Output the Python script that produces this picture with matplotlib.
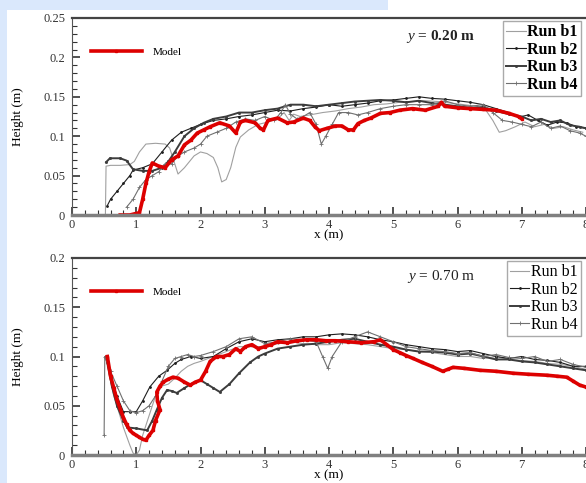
import numpy as np
import matplotlib
matplotlib.use("Agg")
import matplotlib.pyplot as plt
from matplotlib.patches import Rectangle
from matplotlib.ticker import MultipleLocator

plt.rcParams['font.family'] = ['Liberation Serif', 'DejaVu Serif']
plt.rcParams['mathtext.fontset'] = 'custom'
plt.rcParams['mathtext.it'] = 'Liberation Serif:italic'
plt.rcParams['mathtext.rm'] = 'Liberation Serif'

# ---- y = 0.20 m (upper panel) ----
top_model_x = [0.75, 0.9, 1.05, 1.1, 1.15, 1.2, 1.25, 1.35, 1.45, 1.55, 1.65, 1.75, 1.85, 1.95, 2.05, 2.15,
               2.3, 2.45, 2.55, 2.62, 2.7, 2.85, 2.93, 2.98, 3.05, 3.2, 3.35, 3.45, 3.6, 3.7, 3.78, 3.85,
               3.97, 4.1, 4.2, 4.3, 4.38, 4.45, 4.55, 4.65, 4.8, 4.95, 5.1, 5.3, 5.5, 5.7, 5.75, 5.8,
               6.0, 6.2, 6.4, 6.6, 6.8, 6.95, 7.0]
top_model_y = [0.0, 0.0, 0.003, 0.02, 0.04, 0.055, 0.066, 0.062, 0.06, 0.07, 0.075, 0.089, 0.095, 0.104, 0.108, 0.112,
               0.117, 0.113, 0.104, 0.118, 0.12, 0.117, 0.11, 0.108, 0.12, 0.123, 0.117, 0.118, 0.123, 0.12, 0.112, 0.107,
               0.11, 0.113, 0.113, 0.108, 0.108, 0.116, 0.12, 0.123, 0.129, 0.13, 0.133, 0.135, 0.133, 0.138, 0.143, 0.138,
               0.136, 0.135, 0.134, 0.133, 0.129, 0.125, 0.122]

top_b1_x = [0.52, 0.53, 0.6, 0.75, 0.9, 0.97, 1.05, 1.15, 1.3, 1.45, 1.52, 1.58, 1.65, 1.75, 1.9, 2.0,
            2.1, 2.2, 2.27, 2.33, 2.4, 2.47, 2.55, 2.62, 2.75, 2.9, 3.05, 3.2, 3.3, 3.38, 3.45, 3.55,
            3.7, 3.9, 4.1, 4.3, 4.5, 4.7, 4.9, 5.1, 5.3, 5.5, 5.7, 5.9, 6.1, 6.3, 6.45, 6.55, 6.65,
            6.75, 6.9, 7.05, 7.2, 7.35, 7.5, 7.65, 7.8, 7.95]
top_b1_y = [0.0, 0.062, 0.063, 0.063, 0.064, 0.068, 0.08, 0.09, 0.091, 0.09, 0.085, 0.07, 0.052, 0.06, 0.075, 0.08,
            0.078, 0.073, 0.06, 0.042, 0.045, 0.06, 0.086, 0.099, 0.108, 0.115, 0.118, 0.122, 0.13, 0.12, 0.128, 0.125,
            0.127, 0.13, 0.132, 0.135, 0.137, 0.14, 0.141, 0.143, 0.144, 0.145, 0.144, 0.142, 0.14, 0.138, 0.132, 0.12, 0.105,
            0.107, 0.112, 0.118, 0.112, 0.115, 0.11, 0.112, 0.108, 0.105]

top_b2_x = [0.55, 0.6, 0.7, 0.8, 0.9, 0.95, 1.1, 1.25, 1.4, 1.55, 1.7, 1.85, 2.0, 2.2, 2.4, 2.6,
            2.8, 3.0, 3.2, 3.4, 3.6, 3.8, 4.0, 4.2, 4.4, 4.6, 4.8, 5.0, 5.2, 5.4, 5.6, 5.8,
            6.0, 6.2, 6.4, 6.6, 6.8, 6.95, 7.1, 7.25, 7.4, 7.55, 7.7, 7.85, 8.0]
top_b2_y = [0.012, 0.02, 0.03, 0.04, 0.05, 0.057, 0.06, 0.065, 0.08, 0.095, 0.105, 0.11, 0.115, 0.12, 0.122, 0.125,
            0.127, 0.13, 0.133, 0.132, 0.135, 0.137, 0.14, 0.138, 0.14, 0.142, 0.145, 0.146, 0.148, 0.15, 0.148, 0.147,
            0.145, 0.143, 0.14, 0.135, 0.13, 0.124, 0.127, 0.12, 0.114, 0.118, 0.117, 0.112, 0.11]

top_b3_x = [0.53, 0.59, 0.75, 0.85, 0.95, 1.1, 1.25, 1.4, 1.5, 1.6, 1.75, 1.9, 2.05, 2.2, 2.4, 2.6,
            2.8, 3.0, 3.2, 3.4, 3.6, 3.8, 4.0, 4.2, 4.4, 4.6, 4.8, 5.0, 5.2, 5.4, 5.6, 5.8,
            6.0, 6.2, 6.4, 6.6, 6.8, 7.0, 7.15, 7.3, 7.45, 7.6, 7.75, 7.9, 8.0]
top_b3_y = [0.067, 0.072, 0.072, 0.069, 0.058, 0.056, 0.056, 0.06, 0.068, 0.08, 0.1, 0.11, 0.117, 0.122, 0.125, 0.13,
            0.13, 0.133, 0.135, 0.14, 0.14, 0.138, 0.14, 0.142, 0.144, 0.145, 0.146, 0.145, 0.143, 0.145, 0.142, 0.14,
            0.138, 0.136, 0.137, 0.132, 0.128, 0.125, 0.12, 0.122, 0.118, 0.12, 0.114, 0.112, 0.11]

top_b4_x = [0.85, 0.95, 1.05, 1.15, 1.25, 1.35, 1.45, 1.55, 1.65, 1.75, 1.9, 2.0, 2.1, 2.25, 2.4, 2.55,
            2.7, 2.85, 3.0, 3.15, 3.25, 3.32, 3.4, 3.5, 3.6, 3.7, 3.8, 3.88, 3.95, 4.05, 4.15, 4.3,
            4.45, 4.6, 4.8, 5.0, 5.2, 5.4, 5.6, 5.8, 6.0, 6.2, 6.4, 6.55, 6.7, 6.85, 7.0, 7.15,
            7.3, 7.45, 7.6, 7.75, 7.9, 8.0]
top_b4_y = [0.01, 0.02, 0.035, 0.045, 0.05, 0.055, 0.065, 0.065, 0.075, 0.08, 0.085, 0.09, 0.1, 0.105, 0.11, 0.118,
            0.122, 0.12, 0.125, 0.12, 0.13, 0.14, 0.128, 0.122, 0.125, 0.13, 0.115, 0.09, 0.1, 0.115, 0.13, 0.13,
            0.127, 0.13, 0.135, 0.138, 0.14, 0.14, 0.14, 0.145, 0.14, 0.138, 0.14, 0.13, 0.12, 0.118, 0.115, 0.112,
            0.118, 0.11, 0.113, 0.107, 0.104, 0.1]

# ---- y = 0.70 m (lower panel) ----
bot_model_x = [0.55, 0.6, 0.65, 0.7, 0.75, 0.8, 0.85, 0.9, 0.95, 1.0, 1.05, 1.1, 1.15, 1.2, 1.26, 1.3,
               1.37, 1.33, 1.32, 1.37, 1.42, 1.5, 1.57, 1.65, 1.75, 1.84, 1.92, 2.0, 2.08, 2.15, 2.25, 2.35,
               2.45, 2.55, 2.62, 2.7, 2.8, 2.9, 3.0, 3.1, 3.2, 3.35, 3.5, 3.65, 3.8, 3.95, 4.1, 4.3,
               4.5, 4.7, 4.8, 4.9, 5.0, 5.1, 5.2, 5.31, 5.45, 5.6, 5.77, 5.85, 5.93, 6.1, 6.35, 6.6,
               6.87, 7.1, 7.39, 7.55, 7.7, 7.8, 7.9, 8.0]
bot_model_y = [0.1, 0.08, 0.068, 0.056, 0.047, 0.038, 0.031, 0.025, 0.022, 0.02, 0.018, 0.016, 0.015, 0.02, 0.025, 0.035,
               0.046, 0.055, 0.064, 0.07, 0.074, 0.077, 0.079, 0.078, 0.074, 0.071, 0.074, 0.076, 0.085, 0.095, 0.1, 0.1,
               0.102, 0.108, 0.105, 0.11, 0.112, 0.108, 0.11, 0.112, 0.115, 0.114, 0.116, 0.117, 0.117, 0.116, 0.116, 0.115,
               0.114, 0.115, 0.117, 0.112, 0.107, 0.104, 0.101, 0.098, 0.094, 0.09, 0.085, 0.087, 0.089, 0.088, 0.086, 0.085,
               0.083, 0.082, 0.081, 0.08, 0.079, 0.075, 0.071, 0.069]

bot_b1_x = [0.52, 0.55, 0.6, 0.65, 0.7, 0.8, 0.9, 0.95, 1.0, 1.05, 1.1, 1.2, 1.3, 1.4, 1.5, 1.6,
            1.7, 1.8, 1.9, 2.0, 2.2, 2.4, 2.6, 2.8, 3.0, 3.2, 3.4, 3.6, 3.8, 4.0, 4.2, 4.4,
            4.6, 4.8, 5.0, 5.2, 5.4, 5.6, 5.8, 6.0, 6.2, 6.4, 6.6, 6.8, 7.0, 7.2, 7.4, 7.6, 7.8, 8.0]
bot_b1_y = [0.1, 0.09, 0.075, 0.06, 0.05, 0.028, 0.01, 0.002, 0.0, 0.005, 0.02, 0.04, 0.06, 0.07, 0.072, 0.078,
            0.085, 0.09, 0.093, 0.095, 0.1, 0.105, 0.11, 0.11, 0.11, 0.113, 0.115, 0.113, 0.112, 0.112, 0.114, 0.113,
            0.112, 0.11, 0.108, 0.107, 0.105, 0.104, 0.102, 0.1, 0.1, 0.098, 0.1, 0.097, 0.096, 0.095, 0.093, 0.092, 0.09, 0.087]

bot_b2_x = [0.52, 0.6, 0.7, 0.8, 0.9, 1.0, 1.1, 1.21, 1.35, 1.48, 1.6, 1.7, 1.85, 2.0, 2.2, 2.4,
            2.6, 2.8, 3.0, 3.2, 3.4, 3.6, 3.8, 4.0, 4.2, 4.4, 4.6, 4.8, 5.0, 5.2, 5.4, 5.6,
            5.8, 6.0, 6.2, 6.4, 6.6, 6.8, 7.0, 7.2, 7.4, 7.6, 7.8, 8.0]
bot_b2_y = [0.1, 0.08, 0.06, 0.044, 0.044, 0.044, 0.055, 0.069, 0.08, 0.086, 0.093, 0.097, 0.1, 0.098, 0.1, 0.108,
            0.115, 0.118, 0.115, 0.117, 0.118, 0.12, 0.12, 0.122, 0.123, 0.122, 0.12, 0.117, 0.115, 0.112, 0.11, 0.108,
            0.107, 0.105, 0.106, 0.103, 0.1, 0.098, 0.1, 0.097, 0.096, 0.094, 0.09, 0.09]

bot_b3_x = [0.55, 0.62, 0.7, 0.8, 0.86, 1.0, 1.17, 1.25, 1.32, 1.4, 1.48, 1.55, 1.63, 1.75, 1.85, 2.0,
            2.1, 2.2, 2.3, 2.45, 2.6, 2.77, 2.9, 3.0, 3.2, 3.4, 3.6, 3.8, 4.0, 4.2, 4.4, 4.6,
            4.8, 5.0, 5.2, 5.4, 5.6, 5.8, 6.0, 6.2, 6.4, 6.6, 6.8, 7.0, 7.2, 7.4, 7.6, 7.8, 8.0]
bot_b3_y = [0.095, 0.07, 0.05, 0.035, 0.028, 0.027, 0.025, 0.035, 0.046, 0.058, 0.066, 0.065, 0.063, 0.068, 0.072, 0.076,
            0.072, 0.068, 0.064, 0.072, 0.083, 0.094, 0.1, 0.103, 0.108, 0.11, 0.112, 0.113, 0.115, 0.117, 0.118, 0.115,
            0.112, 0.11, 0.107, 0.105, 0.105, 0.104, 0.102, 0.103, 0.1, 0.097, 0.097, 0.095, 0.094, 0.092, 0.09, 0.088, 0.086]

bot_b4_x = [0.5, 0.51, 0.6, 0.7, 0.8, 0.9, 1.0, 1.1, 1.2, 1.3, 1.4, 1.5, 1.6, 1.7, 1.8, 1.9,
            2.0, 2.2, 2.4, 2.6, 2.8, 3.0, 3.2, 3.4, 3.6, 3.8, 3.9, 3.98, 4.05, 4.2, 4.4, 4.6,
            4.8, 5.0, 5.2, 5.4, 5.6, 5.8, 6.0, 6.2, 6.4, 6.6, 6.8, 7.0, 7.2, 7.4, 7.6, 7.8, 8.0]
bot_b4_y = [0.02, 0.1, 0.085, 0.07, 0.055, 0.045, 0.043, 0.045, 0.05, 0.06, 0.075, 0.09, 0.098, 0.1, 0.102, 0.1,
            0.101, 0.105, 0.11, 0.118, 0.12, 0.113, 0.115, 0.118, 0.117, 0.115, 0.1, 0.088, 0.1, 0.115, 0.12, 0.125,
            0.12, 0.115, 0.11, 0.108, 0.106, 0.105, 0.103, 0.104, 0.1, 0.102, 0.099, 0.098, 0.1, 0.095, 0.097, 0.092, 0.089]

run_labels = ['Run b1', 'Run b2', 'Run b3', 'Run b4']
run_styles = [dict(color='#a0a0a0', lw=0.8),
              dict(color='#1e1e1e', lw=0.8, marker='.', ms=2),
              dict(color='#3c3c3c', lw=1.4, marker='s', ms=1.0),
              dict(color='#707070', lw=0.8, marker='+', ms=2.5, mew=0.6)]
model_style = dict(color='#dd0000', lw=2.6, marker='s', ms=2)


def draw_panel(ax, runs, model, ymax, title, bold):
    for (xs, ys), lab, st in zip(runs, run_labels, run_styles):
        ax.plot(xs, ys, label=lab, **st)
    mline, = ax.plot(model[0], model[1], **model_style)

    ax.set_xlim(0, 8)
    ax.set_ylim(0, ymax)
    ax.xaxis.set_major_locator(MultipleLocator(1))
    ax.xaxis.set_minor_locator(MultipleLocator(0.2))
    ax.yaxis.set_major_locator(MultipleLocator(0.05))
    ax.yaxis.set_minor_locator(MultipleLocator(0.01))
    ax.yaxis.set_major_formatter(plt.FuncFormatter(lambda v, p: '0' if v == 0 else f'{v:g}'))
    ax.tick_params(which='both', direction='in', top=False, right=False, labelsize=9,
                   labelcolor='#333333', color='#333333')
    ax.tick_params(which='major', length=6, width=1.2)
    ax.tick_params(which='minor', length=3.5, width=0.8)
    ax.tick_params(axis='x', pad=3)
    ax.tick_params(axis='y', pad=5)
    ax.spines['right'].set_visible(False)
    ax.spines['top'].set_color('#444444')
    ax.spines['top'].set_linewidth(1.6)
    ax.spines['left'].set_color('#555555')
    ax.spines['left'].set_linewidth(0.8)
    ax.spines['bottom'].set_color('#808080')
    ax.spines['bottom'].set_linewidth(2.5)

    ax.set_xlabel('x (m)', fontsize=9.5, labelpad=-1)
    ax.set_ylabel('Height (m)', fontsize=9.5, labelpad=14)

    leg = ax.legend(loc='upper right', bbox_to_anchor=(0.99, 0.985),
                    prop=dict(size=11.5, weight='bold' if bold else 'normal'),
                    handlelength=1.2, handletextpad=0.1, labelspacing=0.1,
                    borderpad=0.2, borderaxespad=0, fancybox=False, framealpha=1)
    leg.get_frame().set_edgecolor('#aaaaaa')
    leg.get_frame().set_linewidth(1.0)
    ax.add_artist(leg)

    ax.legend([mline], ['Model'], loc='center left', bbox_to_anchor=(0.028, 0.827),
              frameon=False, fontsize=8, handlelength=4.6, handletextpad=1.0, borderaxespad=0)

    ax.text(0.718, 0.905, title, transform=ax.transAxes, ha='center', va='center',
            fontsize=11, fontweight='bold' if bold else 'normal', color='#222222')


fig = plt.figure(figsize=(5.86, 4.83), dpi=100, facecolor='white')
fig.patches.append(Rectangle((0, 0), 7 / 586, 1, transform=fig.transFigure,
                             facecolor='#dae8fc', edgecolor='none', zorder=-1))
fig.patches.append(Rectangle((0, 473 / 483), 388 / 586, 10 / 483, transform=fig.transFigure,
                             facecolor='#dae8fc', edgecolor='none', zorder=-1))

ax1 = fig.add_axes([72 / 586, 268 / 483, 514 / 586, 197 / 483])
ax2 = fig.add_axes([72 / 586, 28 / 483, 514 / 586, 197 / 483])

draw_panel(ax1, [(top_b1_x, top_b1_y), (top_b2_x, top_b2_y), (top_b3_x, top_b3_y), (top_b4_x, top_b4_y)],
           (top_model_x, top_model_y), 0.25, r'$y$ = 0.20 m', True)
draw_panel(ax2, [(bot_b1_x, bot_b1_y), (bot_b2_x, bot_b2_y), (bot_b3_x, bot_b3_y), (bot_b4_x, bot_b4_y)],
           (bot_model_x, bot_model_y), 0.2, r'$y$ = 0.70 m', False)

fig.savefig('out.png', dpi=100, facecolor=fig.get_facecolor())
